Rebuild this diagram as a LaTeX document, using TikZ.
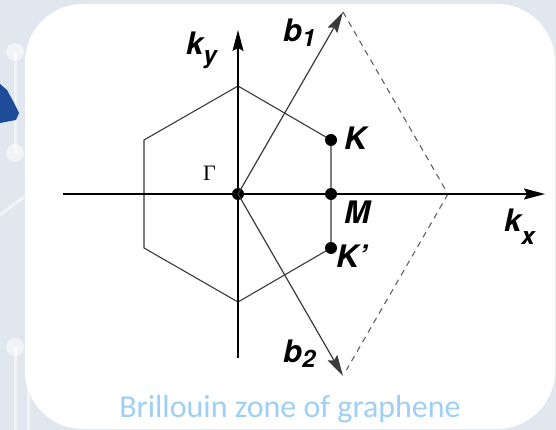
\documentclass[tikz,border=0pt]{standalone}
\usepackage{fontspec}
\usetikzlibrary{arrows.meta}
\newfontfamily\labfont{TeX Gyre Heros}
\newfontfamily\capfont{Carlito}
\newfontfamily\serfont{Liberation Serif}
\definecolor{bgc}{HTML}{E0E7EF}
\definecolor{capc}{HTML}{9ECFF7}
\definecolor{hexc}{HTML}{3A3A3A}
\definecolor{blobc}{HTML}{1E4C98}
\newcommand\bigL[1]{{\fontsize{31}{31}\selectfont #1}}
\newcommand\subL[1]{{\fontsize{24}{24}\selectfont #1}}
\begin{document}
\begin{tikzpicture}[x=1pt,y=-1pt,
  axisline/.style={line width=1.4pt, black, -{Stealth[length=21pt,width=11pt,inset=3pt]}},
  vecline/.style={line width=1.2pt, hexc, -{Stealth[length=21pt,width=11pt,inset=3pt]}},
  hexline/.style={line width=1.1pt, hexc},
  dashline/.style={line width=1.1pt, hexc!80, dash pattern=on 6pt off 5pt},
  dot/.style={circle, fill=black, minimum size=12pt, inner sep=0pt},
  lab/.style={inner sep=0pt, font=\labfont\bfseries\itshape},
  deco/.style={white, opacity=0.55}
]
\useasboundingbox (0,0) rectangle (556,430);
% background
\fill[bgc] (0,0) rectangle (556,430);
\draw[deco, line width=3pt] (15,52) -- (15,153);
\draw[deco, line width=3pt] (0,215) -- (25,196);
\draw[deco, line width=3pt] (15,347) -- (15,430);
\draw[deco, line width=3pt] (28,362) -- (28,430);
\fill[deco] (15,52) circle (9);
\fill[deco] (15,153) circle (9);
\fill[deco] (15,347) circle (9);
\fill[blobc] (0,84) -- (7,90) -- (13,101) -- (19,113) -- (16,120) -- (0,123) -- cycle;
% white panel
\fill[white, rounded corners=58pt] (25,4) rectangle (555,429);

% points
\coordinate (top) at (238,86);
\coordinate (ul) at (144,140);
\coordinate (ll) at (144,248);
\coordinate (bot) at (238,302);
\coordinate (xs) at (63,194);
\coordinate (xe) at (545,194);
\coordinate (ys) at (238,358);
\coordinate (ye) at (238,30);
\coordinate (b1t) at (343,12);
\coordinate (b2t) at (343,376);
\coordinate (D) at (448,194);

% hexagon
\draw[hexline] (top) -- (ul) -- (ll) -- (bot) -- (331,248) -- (331,140) -- cycle;

% dashed
\draw[dashline] (b1t) -- (D);
\draw[dashline, shorten >=7pt] (D) -- (b2t);

% axes
\draw[axisline] (xs) -- (xe);
\draw[axisline] (ys) -- (ye);

% dots
\node[dot] (G) at (238,194) {};
\node[dot] (K) at (331,140) {};
\node[dot] (M) at (331,194) {};
\node[dot] (Kp) at (331,248) {};

% reciprocal vectors
\draw[vecline] (G.center) -- (b1t);
\draw[vecline] (G.center) -- (b2t);

% labels
\node[lab, anchor=base west] (lky) at (186,55) {\bigL{k}\raisebox{-9pt}{\subL{y}}};
\node[lab, anchor=base west] (lb1) at (283,42) {\bigL{b}\raisebox{-5pt}{\subL{1}}};
\node[lab, anchor=base west] (lK) at (344,150) {\bigL{K}};
\node[lab, anchor=base west] (lM) at (344,223) {\bigL{M}};
\node[lab, anchor=base west] (lKp) at (336,267) {\bigL{K’}};
\node[lab, anchor=base west] (lkx) at (504,232) {\bigL{k}\raisebox{-13pt}{\subL{x}}};
\node[lab, anchor=base west] (lb2) at (283,362) {\bigL{b}\raisebox{-5pt}{\subL{2}}};
\node[inner sep=0pt, anchor=base west, font=\serfont\fontsize{22}{22}\selectfont] (lG) at (203,181) {Γ};

% caption
\node[anchor=base, inner sep=0pt, text=capc, font=\capfont\fontsize{32}{32}\selectfont] (cap) at (290,417) {Brillouin zone of graphene};
\end{tikzpicture}
\end{document}
